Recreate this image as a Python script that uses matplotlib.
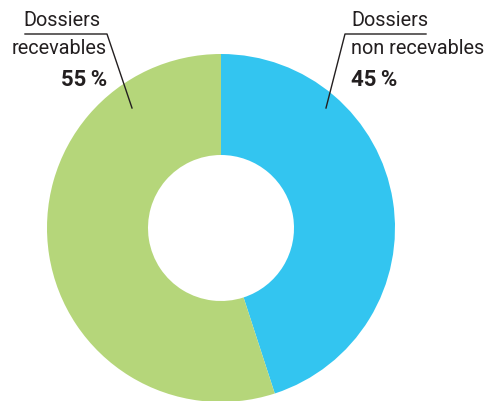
import matplotlib
matplotlib.use("Agg")
import matplotlib.pyplot as plt

# data
labels = ["Dossiers\nnon recevables", "Dossiers\nrecevables"]
values = [45, 55]
colors = ["#33c5f0", "#b5d67a"]

plt.rcParams['font.family'] = ['Roboto', 'DejaVu Sans']

fig = plt.figure(figsize=(4.86, 4.01), dpi=100)
ax = fig.add_axes([0, 0, 1, 1])

cx, cy, r_out, r_in = 221, 173, 174, 73
ax.pie(values, colors=colors, startangle=90, counterclock=False,
       center=(cx, cy), radius=r_out, frame=True,
       wedgeprops=dict(width=r_out - r_in, linewidth=0))
ax.set_xlim(0, 486)
ax.set_ylim(0, 401)
ax.set_aspect('equal')
ax.axis('off')

fs = 14.3
fs_pct = 16
tc = '#231f20'

# left label (recevables)
ax.text(100, 380, "Dossiers", ha='right', va='center', fontsize=fs, color=tc)
ax.text(107, 353, "recevables", ha='right', va='center', fontsize=fs, color=tc)
ax.text(107, 321, f"{values[1]}\u2009%", ha='right', va='center', fontsize=fs_pct,
        fontweight='bold', color=tc)
ax.plot([25, 107, 132], [367, 367, 293], color=tc, lw=1)

# right label (non recevables)
ax.text(351, 380, "Dossiers", ha='left', va='center', fontsize=fs, color=tc)
ax.text(351, 353, "non recevables", ha='left', va='center', fontsize=fs, color=tc)
ax.text(351, 321, f"{values[0]}\u2009%", ha='left', va='center', fontsize=fs_pct,
        fontweight='bold', color=tc)
ax.plot([426, 345, 326], [367, 367, 293], color=tc, lw=1)

fig.savefig("out.png", dpi=100)
